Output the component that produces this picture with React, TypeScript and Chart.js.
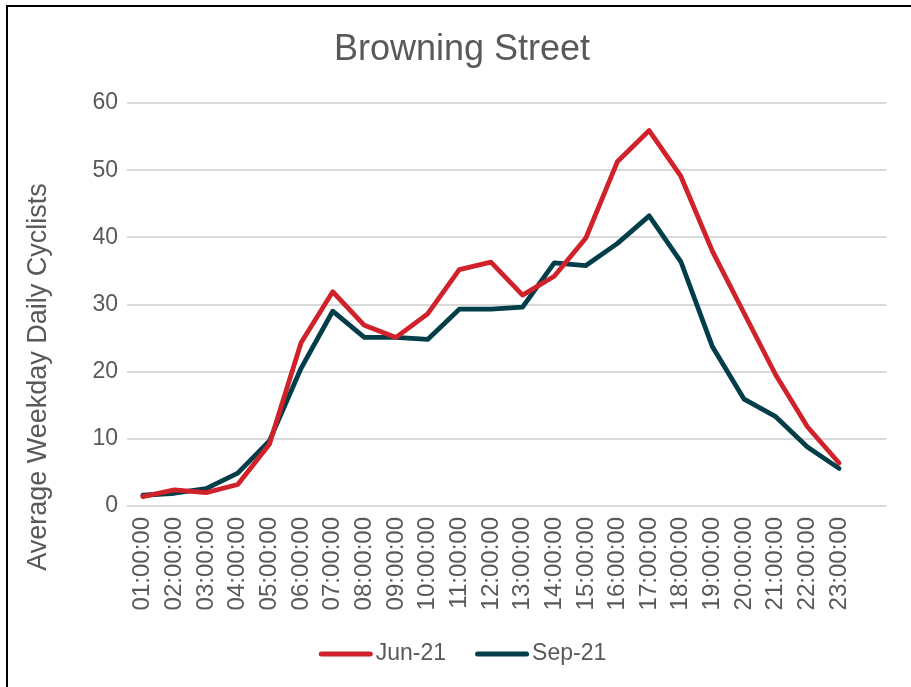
import React, { useEffect, useRef } from "react";
import { Chart, registerables } from "chart.js";

Chart.register(...registerables);

// Hour-of-day categories (the 24th slot is left unlabelled and empty)
const hours: string[] = [
  "01:00:00", "02:00:00", "03:00:00", "04:00:00", "05:00:00", "06:00:00",
  "07:00:00", "08:00:00", "09:00:00", "10:00:00", "11:00:00", "12:00:00",
  "13:00:00", "14:00:00", "15:00:00", "16:00:00", "17:00:00", "18:00:00",
  "19:00:00", "20:00:00", "21:00:00", "22:00:00", "23:00:00", "",
];

const jun21: (number | null)[] = [
  1.4, 2.4, 2.0, 3.2, 9.2, 24.3, 31.9, 26.9, 25.1, 28.6, 35.2, 36.3,
  31.4, 34.2, 39.9, 51.3, 55.9, 49.1, 37.9, 28.7, 19.5, 11.8, 6.4, null,
];

const sep21: (number | null)[] = [
  1.6, 1.9, 2.6, 4.9, 9.7, 20.5, 29.0, 25.1, 25.1, 24.8, 29.3, 29.3,
  29.6, 36.2, 35.8, 39.1, 43.2, 36.4, 23.7, 15.9, 13.3, 8.8, 5.6, null,
];

const seriesNames = ["Jun-21", "Sep-21"];
const seriesColors = ["#D0222A", "#013E49"];

const chartTitle = "Browning Street";
const yAxisTitle = "Average Weekday Daily Cyclists";

const FONT = "'Liberation Sans', Arial, sans-serif";
const TEXT = "#595959";

// Frame, title, rotated y-axis title and legend drawn on the canvas
const decorations = {
  id: "decorations",
  beforeDraw(chart: Chart) {
    const ctx = chart.ctx;
    ctx.save();
    ctx.fillStyle = "#ffffff";
    ctx.fillRect(0, 0, chart.width, chart.height);
    ctx.fillStyle = "#000000";
    ctx.fillRect(6, 5, 2, chart.height);
    ctx.fillRect(6, 5, chart.width, 2);
    ctx.restore();
  },
  afterDraw(chart: Chart) {
    const ctx = chart.ctx;
    ctx.save();
    ctx.fillStyle = TEXT;

    // chart title
    ctx.font = `36px ${FONT}`;
    ctx.textAlign = "center";
    ctx.textBaseline = "middle";
    ctx.fillText(chartTitle, 462, 50);

    // y axis title
    ctx.save();
    ctx.translate(39, 377);
    ctx.rotate(-Math.PI / 2);
    ctx.font = `27px ${FONT}`;
    ctx.textAlign = "center";
    ctx.textBaseline = "middle";
    ctx.fillText(yAxisTitle, 0, 0);
    ctx.restore();

    // legend
    ctx.font = `23px ${FONT}`;
    ctx.textAlign = "left";
    ctx.textBaseline = "middle";
    const lineLen = 54;
    const gap = 5;
    const itemGap = 27;
    const ds = chart.data.datasets;
    const widths = ds.map((d) => lineLen + gap + ctx.measureText(String(d.label)).width);
    const total = widths.reduce((a, b) => a + b, 0) + itemGap * (ds.length - 1);
    let x = 463.5 - total / 2;
    const y = 654;
    ds.forEach((d, i) => {
      ctx.strokeStyle = String(d.borderColor);
      ctx.lineWidth = 5;
      ctx.lineCap = "round";
      ctx.beginPath();
      ctx.moveTo(x + 2.5, y);
      ctx.lineTo(x + lineLen - 2.5, y);
      ctx.stroke();
      ctx.fillStyle = TEXT;
      ctx.fillText(String(d.label), x + lineLen + gap - 2, y);
      x += widths[i] + itemGap;
    });
    ctx.restore();
  },
};

export default function App() {
  const canvasRef = useRef<HTMLCanvasElement | null>(null);

  useEffect(() => {
    if (!canvasRef.current) return;
    const chart = new Chart(canvasRef.current, {
      type: "line",
      data: {
        labels: hours,
        datasets: [
          {
            label: seriesNames[0],
            data: jun21,
            borderColor: seriesColors[0],
            backgroundColor: seriesColors[0],
            borderWidth: 4.8,
            pointRadius: 0,
            tension: 0,
            borderJoinStyle: "round",
            borderCapStyle: "round",
          },
          {
            label: seriesNames[1],
            data: sep21,
            borderColor: seriesColors[1],
            backgroundColor: seriesColors[1],
            borderWidth: 4.8,
            pointRadius: 0,
            tension: 0,
            borderJoinStyle: "round",
            borderCapStyle: "round",
          },
        ],
      },
      options: {
        responsive: false,
        animation: false,
        layout: { padding: { top: 103, right: 24, bottom: 43, left: 0 } },
        plugins: {
          legend: { display: false },
          title: { display: false },
          tooltip: { enabled: false },
        },
        scales: {
          x: {
            offset: true,
            grid: { display: false, drawTicks: false },
            border: { display: false },
            ticks: {
              autoSkip: false,
              minRotation: 90,
              maxRotation: 90,
              padding: 11,
              color: TEXT,
              font: { family: FONT, size: 24 },
            },
            afterFit(scale: any) {
              scale.height = 138;
            },
          },
          y: {
            min: 0,
            max: 60,
            grid: { color: "#D9D9D9", lineWidth: 2, drawTicks: false },
            border: { display: false },
            ticks: {
              stepSize: 10,
              padding: 9,
              color: TEXT,
              font: { family: FONT, size: 23 },
            },
            afterFit(scale: any) {
              scale.width = 127;
            },
          },
        },
      },
      plugins: [decorations],
    });
    return () => chart.destroy();
  }, []);

  return (
    <div style={{ position: "absolute", left: 0, top: 0, width: 911, height: 687, background: "#fff" }}>
      <canvas ref={canvasRef} width={911} height={687} style={{ display: "block" }} />
    </div>
  );
}
